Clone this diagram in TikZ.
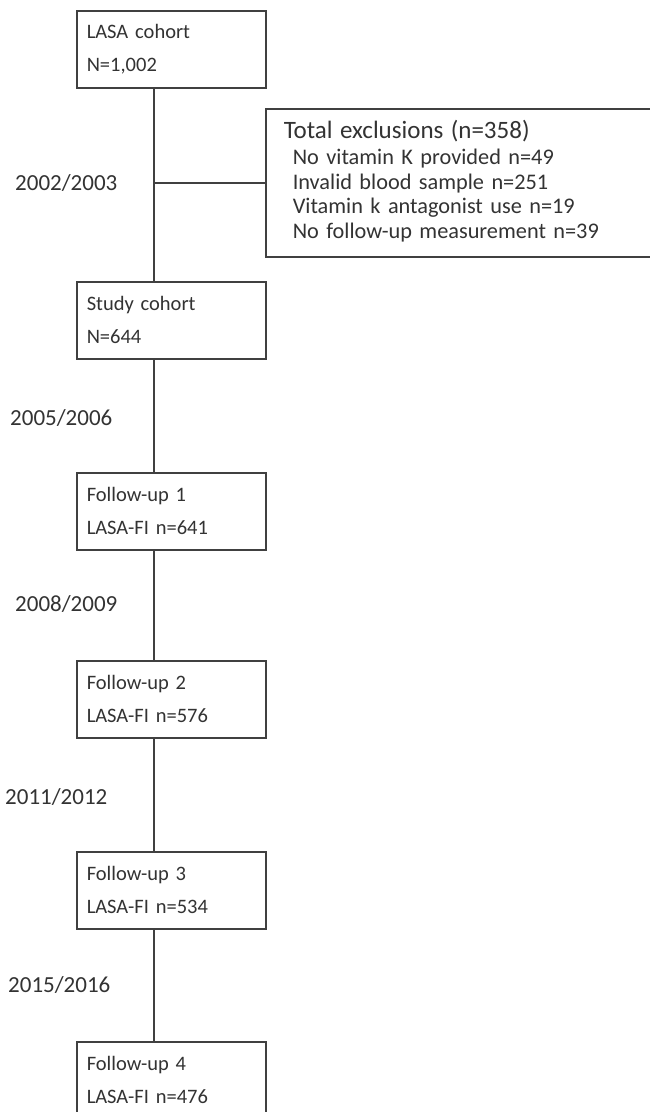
\documentclass[tikz,border=0pt]{standalone}
\usepackage{fontspec}
\setmainfont{Carlito}
\usetikzlibrary{positioning}

\definecolor{linegray}{HTML}{404040}
\definecolor{textgray}{HTML}{333333}

\newcommand{\titlesize}{\fontsize{25}{29}\selectfont}
\newcommand{\itemsize}{\fontsize{22.3}{24.5}\selectfont}

\tikzset{
  stagebox/.style={draw=linegray, line width=1.5pt, rectangle, anchor=north west,
    minimum width=189pt, minimum height=77pt, text width=169pt, inner xsep=10pt,
    align=left, text=textgray, font=\fontsize{20.5}{33}\selectfont},
  exclbox/.style={draw=linegray, line width=1.5pt, rectangle, anchor=north west,
    minimum width=400pt, minimum height=148pt, text width=364pt, inner xsep=18pt,
    align=left, text=textgray, font=\itemsize},
  yearlabel/.style={anchor=west, inner sep=0pt, text=textgray, font=\fontsize{23}{26}\selectfont},
  link/.style={draw=linegray, line width=1.5pt}
}

\begin{document}
\begin{tikzpicture}[x=1pt, y=-1pt]
\clip (0,0) rectangle (650,1112);
\fill[white] (0,0) rectangle (650,1112);
\coordinate (spine) at (154,0);
% boxes
\node[stagebox] (lasa) at (76,10) {LASA cohort\\N=1,002};
\node[stagebox] (study) at (76,281) {Study cohort\\N=644};
\node[stagebox] (fu1) at (76,472) {Follow-up 1\\LASA-FI n=641};
\node[stagebox] (fu2) at (76,660) {Follow-up 2\\LASA-FI n=576};
\node[stagebox] (fu3) at (76,851) {Follow-up 3\\LASA-FI n=534};
\node[stagebox] (fu4) at (76,1041) {Follow-up 4\\LASA-FI n=476};
\node[exclbox] (excl) at (265,108) {%
  \begin{tabular}{@{}l@{}}
    \titlesize Total exclusions (n=358)\\[2pt]
    \itemsize\hspace*{9pt}No vitamin K provided n=49\\
    \itemsize\hspace*{9pt}Invalid blood sample n=251\\
    \itemsize\hspace*{9pt}Vitamin k antagonist use n=19\\
    \itemsize\hspace*{9pt}No follow-up measurement n=39
  \end{tabular}};
% years
\node[yearlabel] (y1) at (15,183) {2002/2003};
\node[yearlabel] (y2) at (10,418) {2005/2006};
\node[yearlabel] (y3) at (15,604) {2008/2009};
\node[yearlabel] (y4) at (5,797) {2011/2012};
\node[yearlabel] (y5) at (8,985) {2015/2016};
% connectors
\coordinate (split) at (spine |- excl.west);
\draw[link] (lasa.south -| spine) -- (study.north -| spine);
\draw[link] (split) -- (excl.west);
\draw[link] (study.south -| spine) -- (fu1.north -| spine);
\draw[link] (fu1.south -| spine) -- (fu2.north -| spine);
\draw[link] (fu2.south -| spine) -- (fu3.north -| spine);
\draw[link] (fu3.south -| spine) -- (fu4.north -| spine);
\end{tikzpicture}
\end{document}
